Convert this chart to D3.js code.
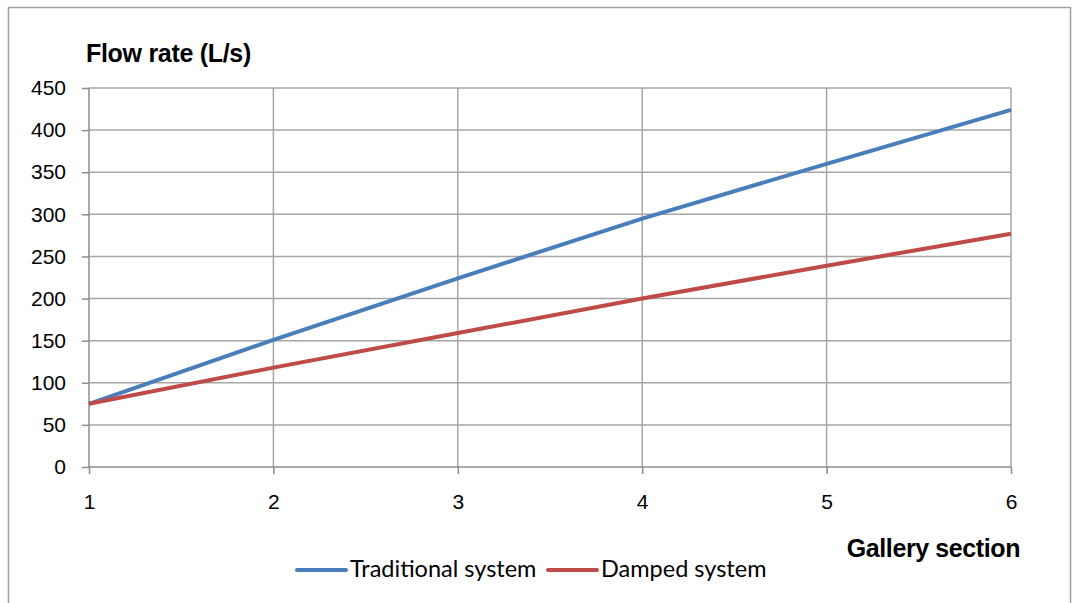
<!DOCTYPE html>
<html>
<head>
    <title>Flow rate by gallery section</title>
    <script src="https://d3js.org/d3.v7.min.js"></script>
    <style>
        body { margin: 0; background: #fff; }
    </style>
</head>
<body>
    <script>
        // Data
        const sections = [1, 2, 3, 4, 5, 6];
        const traditional = [75, 151, 224, 295, 360, 424];
        const damped = [75, 118, 159, 200, 239, 277];
        const yTicks = [0, 50, 100, 150, 200, 250, 300, 350, 400, 450];
        const seriesNames = ["Traditional system", "Damped system"];
        const seriesColors = ["#4a7ebb", "#be4b48"];

        const W = 1072, H = 603;
        const margin = {top: 88, right: 61, bottom: 136, left: 89},
            width = W - margin.left - margin.right,
            height = H - margin.top - margin.bottom;

        const root = d3.select("body")
          .append("svg")
            .attr("width", W)
            .attr("height", H);

        // outer chart border
        root.append("rect")
          .attr("x", 8.5).attr("y", 7.5)
          .attr("width", 1062).attr("height", 620)
          .attr("fill", "none")
          .attr("stroke", "#a0a0a0")
          .attr("stroke-width", 1.5);

        const svg = root.append("g")
            .attr("transform", `translate(${margin.left},${margin.top})`);

        const x = d3.scaleLinear()
          .domain([1, 6])
          .range([0, width]);

        const y = d3.scaleLinear()
          .domain([0, 450])
          .range([height, 0]);

        // horizontal grid
        svg.append("g")
          .selectAll("line")
          .data(yTicks.slice(1))
          .enter()
          .append("line")
            .attr("x1", 0).attr("x2", width)
            .attr("y1", d => y(d)).attr("y2", d => y(d))
            .attr("stroke", "#a6a6a6")
            .attr("stroke-width", 1.5);

        // vertical grid
        svg.append("g")
          .selectAll("line")
          .data(sections.slice(1))
          .enter()
          .append("line")
            .attr("x1", d => x(d)).attr("x2", d => x(d))
            .attr("y1", 0).attr("y2", height)
            .attr("stroke", "#a6a6a6")
            .attr("stroke-width", 1.5);

        // Y axis
        const yAxis = svg.append("g")
          .call(d3.axisLeft(y).tickValues(yTicks).tickSize(7).tickPadding(16));
        yAxis.attr("font-size", 21).attr("font-family", "'Liberation Sans', Arial, sans-serif");
        yAxis.select(".domain").attr("stroke", "#8c8c8c").attr("stroke-width", 1.5)
          .attr("d", `M0,${height}V0`);
        yAxis.selectAll(".tick line").attr("stroke", "#8c8c8c").attr("stroke-width", 1.5);
        yAxis.selectAll(".tick text")
          .style("font-size", "21px")
          .style("font-family", "'Liberation Sans', Arial, sans-serif")
          .attr("fill", "#000");

        // X axis
        const xAxis = svg.append("g")
          .attr("transform", `translate(0,${height})`)
          .call(d3.axisBottom(x).tickValues(sections).tickFormat(d3.format("d")).tickSize(7).tickPadding(20));
        xAxis.attr("font-size", 21).attr("font-family", "'Liberation Sans', Arial, sans-serif");
        xAxis.select(".domain").attr("stroke", "#8c8c8c").attr("stroke-width", 1.5)
          .attr("d", `M0,0H${width}`);
        xAxis.selectAll(".tick line").attr("stroke", "#8c8c8c").attr("stroke-width", 1.5);
        xAxis.selectAll(".tick text")
          .style("font-size", "21px")
          .style("font-family", "'Liberation Sans', Arial, sans-serif")
          .attr("fill", "#000");

        // the two series
        const line = d3.line()
          .x((d, i) => x(sections[i]))
          .y(d => y(d));

        [traditional, damped].forEach(function(vals, k) {
            svg.append("path")
              .datum(vals)
              .attr("fill", "none")
              .attr("stroke", seriesColors[k])
              .attr("stroke-width", 4)
              .attr("d", line);
        });

        // axis titles
        root.append("text")
          .attr("x", 86).attr("y", 62)
          .style("font-family", "'Liberation Sans', Arial, sans-serif")
          .style("font-weight", "bold")
          .style("font-size", "25px")
          .attr("letter-spacing", -0.3)
          .text("Flow rate (L/s)");

        root.append("text")
          .attr("x", 1020).attr("y", 557)
          .attr("text-anchor", "end")
          .style("font-family", "'Liberation Sans', Arial, sans-serif")
          .style("font-weight", "bold")
          .style("font-size", "25px")
          .attr("letter-spacing", -0.4)
          .text("Gallery section");

        // legend
        const legendX = [297, 548];
        const legend = root.append("g");
        seriesNames.forEach(function(name, k) {
            legend.append("line")
              .attr("x1", legendX[k]).attr("x2", legendX[k] + 49)
              .attr("y1", 570).attr("y2", 570)
              .attr("stroke", seriesColors[k])
              .attr("stroke-width", 4)
              .attr("stroke-linecap", "round");
            legend.append("text")
              .attr("x", legendX[k] + 53)
              .attr("y", 577)
              .style("font-family", "Lato, 'Open Sans', sans-serif")
              .style("font-size", "23.5px")
              .attr("fill", "#000")
              .text(name);
        });
    </script>
</body>
</html>
